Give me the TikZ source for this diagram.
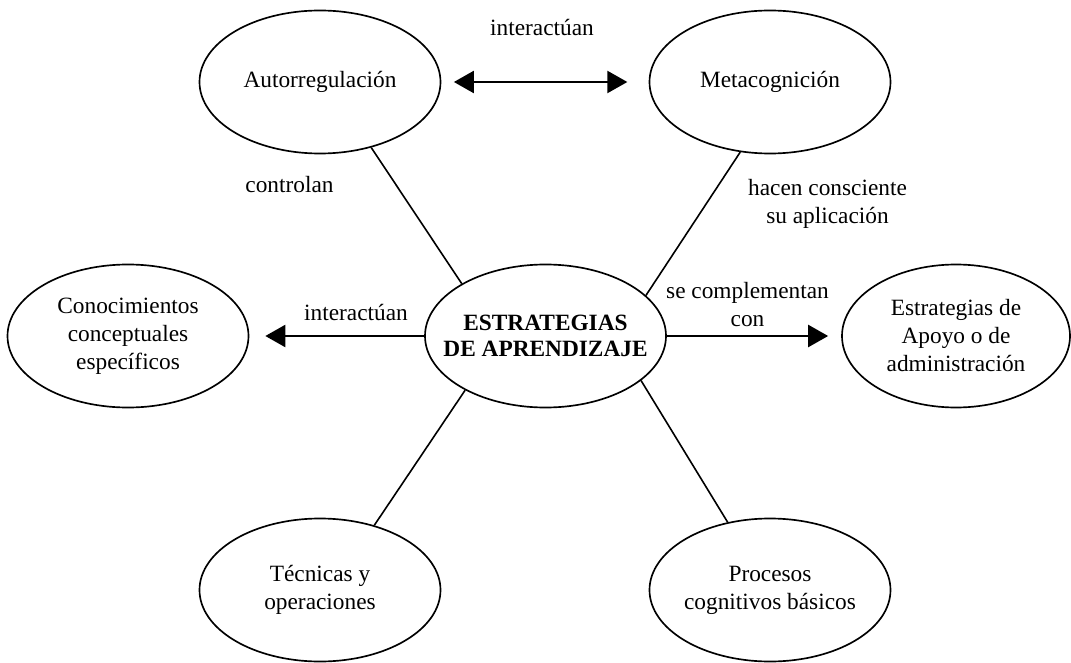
\documentclass[tikz,border=0pt]{standalone}
\usepackage{fontspec}
\setmainfont{Liberation Serif}
\usetikzlibrary{shapes.geometric,arrows.meta,positioning}

\begin{document}
\begin{tikzpicture}[x=0.75pt,y=-0.75pt,
    >={Triangle[length=15pt,width=16.5pt]},
    idea/.style={ellipse,draw,line width=1.25pt,minimum width=180.75pt,minimum height=107.25pt,
        inner xsep=-8pt,inner ysep=0pt,align=center,font=\fontsize{17.5}{21}\selectfont},
    etiqueta/.style={align=center,inner sep=0pt,font=\fontsize{17.5}{21}\selectfont},
    enlace/.style={line width=1.2pt},
    flecha/.style={line width=1.7pt,->}]
    \useasboundingbox (0,0) rectangle (1071,663);

    % Central concept
    \node[idea,inner xsep=-16pt,font=\fontsize{17.5}{19.5}\selectfont\bfseries] (centro) at (545.5,336) {ESTRATEGIAS\\DE APRENDIZAJE};

    % Top row
    \node[idea] (autorreg) at (320,82) {Autorregulación};
    \node[idea] (metacog) at (770,82) {Metacognición};

    % Middle row
    \node[idea] (conocim) at (128,336) {Conocimientos\\conceptuales\\específicos};
    \node[idea,minimum width=171pt] (apoyo) at (956,336) {Estrategias de\\Apoyo o de\\administración};

    % Bottom row
    \node[idea] (tecnicas) at (320,590) {Técnicas y\\operaciones};
    \node[idea] (procesos) at (770,590) {Procesos\\cognitivos básicos};

    % Relation labels
    \node[etiqueta] (lblinter) at (542,28) {interactúan};
    \node[etiqueta] (lblcontrol) at (289.5,185) {controlan};
    \node[etiqueta] (lblhacen) at (827.5,203.5) {hacen consciente\\su aplicación};
    \node[etiqueta] (lblinterdos) at (356,313) {interactúan};
    \node[etiqueta] (lblcompl) at (747.5,305) {se complementan\\con};

    % Plain links
    \draw[enlace] (autorreg.-52) -- (centro.148);
    \draw[enlace] (metacog.-113.5) -- (centro.22);
    \draw[enlace] (centro.214) -- (tecnicas.50);
    \draw[enlace] (centro.-25) -- (procesos.122);

    % Arrows
    \draw[flecha,<->,shorten <=9.4pt,shorten >=16pt] (autorreg) -- (metacog);
    \draw[flecha,shorten >=12pt] (centro) -- (conocim);
    \draw[flecha,shorten >=9.75pt] (centro) -- (apoyo);
\end{tikzpicture}
\end{document}
